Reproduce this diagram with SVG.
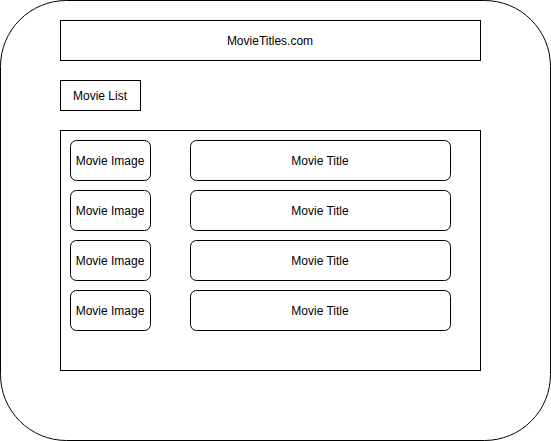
<svg xmlns="http://www.w3.org/2000/svg" width="551" height="441" viewBox="0 0 551 441">
<style>
.b{fill:#fff;stroke:#000;stroke-width:1}
.t{font-family:"Liberation Sans",Arial,sans-serif;font-size:12px;fill:#000;text-anchor:middle;dominant-baseline:central}
</style>
<rect width="551" height="441" fill="#fff"/>
<g id="frame"><rect class="b" x="0.5" y="0.5" width="550" height="440" rx="66" ry="66"/></g>
<g id="header"><rect class="b" x="60.5" y="20.5" width="420" height="40"/><text class="t" x="270" y="41">MovieTitles.com</text></g>
<g id="movie-list"><rect class="b" x="60.5" y="80.5" width="80" height="30"/><text class="t" x="100" y="96">Movie List</text></g>
<g id="container"><rect class="b" x="60.5" y="130.5" width="420" height="240"/></g>
<g id="img1"><rect class="b" x="70.5" y="140.5" width="80" height="40" rx="6"/><text class="t" x="110" y="161">Movie Image</text></g>
<g id="title1"><rect class="b" x="190.5" y="140.5" width="260" height="40" rx="6"/><text class="t" x="320" y="161">Movie Title</text></g>
<g id="img2"><rect class="b" x="70.5" y="190.5" width="80" height="40" rx="6"/><text class="t" x="110" y="211">Movie Image</text></g>
<g id="title2"><rect class="b" x="190.5" y="190.5" width="260" height="40" rx="6"/><text class="t" x="320" y="211">Movie Title</text></g>
<g id="img3"><rect class="b" x="70.5" y="240.5" width="80" height="40" rx="6"/><text class="t" x="110" y="261">Movie Image</text></g>
<g id="title3"><rect class="b" x="190.5" y="240.5" width="260" height="40" rx="6"/><text class="t" x="320" y="261">Movie Title</text></g>
<g id="img4"><rect class="b" x="70.5" y="290.5" width="80" height="40" rx="6"/><text class="t" x="110" y="311">Movie Image</text></g>
<g id="title4"><rect class="b" x="190.5" y="290.5" width="260" height="40" rx="6"/><text class="t" x="320" y="311">Movie Title</text></g>
<g id="connectors"></g>
</svg>
